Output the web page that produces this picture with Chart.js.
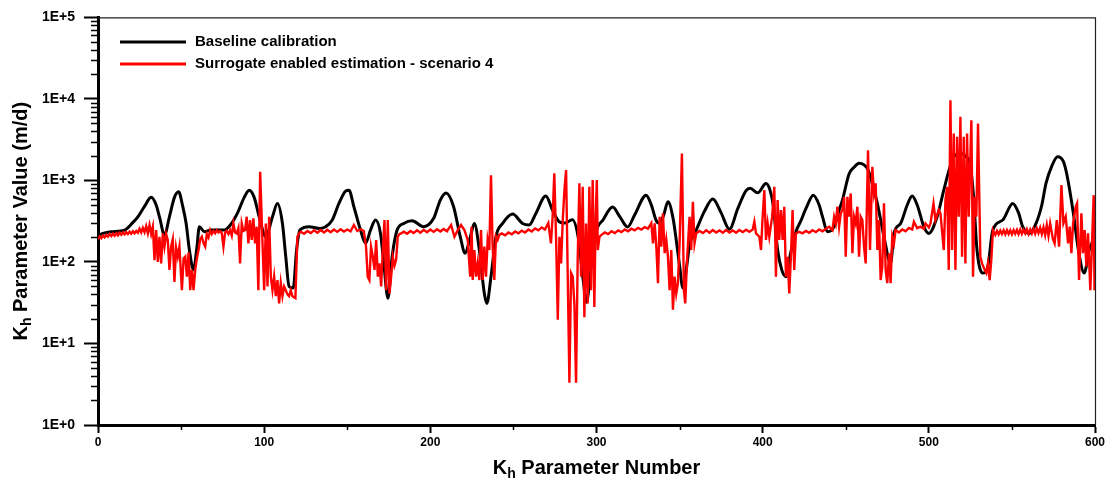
<!DOCTYPE html>
<html>
<head>
<meta charset="utf-8">
<script src="https://cdn.jsdelivr.net/npm/chart.js@4"></script>
<style>
  html, body { margin: 0; background: #fff; }
  #wrap { width: 1108px; height: 486px; position: relative; }
</style>
</head>
<body>
<div id="wrap"><canvas id="kh_chart"></canvas></div>
<script>
// values
const seriesNames = ["Baseline calibration", "Surrogate enabled estimation - scenario 4"];

const baselineX = [0,3,8,16,20,24,28,32,35,37,40,43,46,48.5,51,53,55,57.5,59.5,61,64,68,76,80,84,88,91,94,97,101,105,108,111,113,115,117.5,119.5,121.5,127,133,137,141,145,149,151,154,158,161,164,167,170,172,174.5,177,180,184,189,196,202,206,209.5,214,218,221,224,226.5,229.5,232.5,234,236.5,239.5,243.5,249.5,255.5,259.5,263.5,269.5,273.5,277.5,281,285.5,289,292,294,296.5,299.5,304,309.7,314,318.7,323,329.9,333,336,338,340.5,343,346,348,350,352,354,356,360,365,370,375,380,385,390,392.5,397,402,404.5,406.5,409,411.5,414,416.5,420,423,426,430.5,434,436,439,443,446,448,452,455,458,461,463.5,466,469,473,477,479,483,487,490,493,497,500,505,509,512,515,519,522,525,527,529,532.5,535.5,538.5,544.5,550.5,554,556.5,560.5,564.5,568,570.5,574,577.5,581,583,587,590,593.5,596.5,600];
const baselineY = [210,224,235,246,290,357,480,620,500,357,214,360,620,726,480,300,140,80,150,270,235,246,246,290,400,620,760,620,357,204,359,523,297,116,50,48,140,246,271,258,271,327,523,740,760,476,246,170,246,327,224,96,36,116,246,297,320,271,343,574,700,476,204,128,200,297,140,41,31,66,204,297,387,297,284,394,643,434,312,300,330,200,60,32,80,224,330,473,360,268,380,660,500,320,299,380,546,350,185,90,48,80,160,245,420,590,400,252,450,750,800,705,915,750,476,140,80,66,120,234,320,450,660,500,360,235,271,430,574,1200,1450,1620,1550,1340,900,523,204,96,224,297,500,643,500,271,224,359,762,1300,1950,2140,2000,1500,600,140,73,88,246,327,523,400,271,224,297,500,920,1500,1950,1700,1200,394,140,73,140,204];

const surrogateX = [0,1,2,3,4,5,6,7,8,9,10,11,12,13,14,15,16,17,18,19,20,21,22,23,24,25,26,27,28,29,30,31,32,33,34,35,36,37,38,39,40,41,42,43,44,45,46,47,48,49,50.5,51.5,52.5,53.5,54.5,55.5,56.5,57.5,58.5,59.5,60.5,61.5,62.5,63.5,64.5,65.5,66.5,67.5,68.5,69.5,70.5,71.5,72.5,73.5,74.5,75.5,76.5,77.5,78.5,79.5,80.5,81.5,82.5,83.5,84.5,85.5,86.5,87.5,88.5,89.5,90.5,91.5,92.5,93.5,94.5,95.5,96.5,97.6,98.8,100,101,102,103,104,105,106,107,108,109,110,111,112,113,114,115,116,117,118.8,120,121,122,124,126,128,130,132,134,136,138,140,142,144,146,148,150,152,154,156,158,160,161.3,162.3,163.3,164.3,165.4,166.4,167.4,168.4,169.4,170.4,171.4,172.4,173.4,174.4,175.4,176.4,177.4,178.4,179.4,180.4,181.4,182.4,184,186,188,190,192,194,196,198,200,202,204,206,208,210,212.5,214.5,216.5,218.5,220.5,222.5,224,224.8,225.5,226.5,227.5,228.5,229.5,230.5,231.5,232.5,233.5,234.5,235.5,236.5,237.5,238.5,239.5,240.5,241.5,243,245,247,249,251,253,255,257,259,261,263,265,267,269,271,272.6,273.6,274.6,275.7,276.7,277.7,278.7,279.7,280.7,281.7,282.7,283.7,284.7,285.7,286.7,287.7,288.7,289.7,290.7,291.7,292.7,293.7,294.7,295.7,296.7,297.7,298.7,299.5,300.2,300.8,301.8,303,305,307,309,311,313,315,317,319,321,323,325,327,329,331,333,334,335,336,337,338,339,340,341,342,343,344,345,346,347,348,349,350,351.4,352.6,353.4,354.6,356,357,358,359,360,362,364,366,368,370,372,374,376,378,380,382,384,386,388,390,392,394,395,396,398,399,400,401,402,403,404,405.7,407,408,409,410,411,412,413,414,415,416,417,418,419,420,422,424,426,428,430,432,434,436,438,440,442,443,444,445,446,447,448,449,450,451,452,453,454,455,456,457,458,459,460,461,462,463.4,464.6,466,467,468,469,470,471,472,473,474,475,476,477,478,479,480,482,484,486,488,490,491,493,495,497,498,500,501,502.8,504,506,507,509,510,511,512,513,514,515,516,517,518,519,520,521,522,523,524,525.6,526.6,527.6,528.6,529.6,531,532,533.6,534.6,535.6,536.6,537.6,538.6,540,541,542,543,544,545,546,547,548,549,550,551,552,553,554,555,556,557,558,559,560,561,562,563,564,565,566,567,568,569,570,571,572,573,574.7,575.7,577,578.4,579.8,581,582.4,583.8,584.8,585.8,586.8,588.4,589.2,590.4,591.8,592.8,593.8,594.8,595.8,597.2,598.2,599.2,599.7,600];
const surrogateY = [190,205,195,210,200,215,205,220,208,222,210,225,212,228,215,230,218,232,220,235,222,238,225,240,228,255,230,262,232,275,225,284,220,270,105,246,100,204,96,224,154,220,186,80,154,190,57,150,116,154,45,110,116,66,130,45,80,45,80,110,140,190,204,170,154,220,200,246,220,240,225,245,230,240,225,154,230,240,220,245,210,297,230,224,260,96,297,240,246,359,169,327,186,343,169,271,45,1280,224,45,297,50,359,66,45,66,38,60,31,55,38,50,45,40,38,45,38,36,204,225,235,222,240,226,244,228,246,230,248,232,250,234,252,236,250,238,284,240,252,240,154,66,60,154,116,80,186,66,96,50,140,327,45,327,41,66,116,90,106,204,220,224,235,222,240,226,244,228,248,232,250,234,252,236,254,238,284,204,246,284,246,186,66,271,60,140,66,96,60,246,60,154,66,186,140,1160,154,60,204,186,215,224,212,230,218,236,224,242,230,250,236,258,244,265,250,300,169,359,1220,186,19.5,204,96,327,762,1340,66,3.3,73,66,30,3.3,116,920,66,836,21,297,31,836,45,1010,28,359,1010,140,204,215,230,220,238,226,244,232,250,238,256,244,262,250,268,256,300,169,297,154,55,359,154,394,128,186,116,45,140,26,66,41,55,169,2140,45,31,116,359,140,548,169,224,240,226,244,228,246,230,244,228,246,230,244,228,246,232,248,234,250,312,224,204,140,359,762,186,297,204,359,836,66,574,186,434,186,476,66,116,41,116,434,80,224,235,225,240,228,245,232,250,238,256,271,246,359,297,476,271,394,434,630,116,630,359,693,128,359,297,476,116,359,327,154,96,2350,140,1470,693,920,140,327,60,88,523,80,55,128,55,204,169,246,230,250,238,262,250,312,260,271,255,297,265,297,523,327,434,394,140,574,836,80,9640,140,3770,80,3430,359,6030,116,3430,96,3770,359,5480,66,631,359,4990,116,96,80,73,96,60,106,246,215,240,218,242,220,244,218,246,220,244,218,246,222,248,220,250,222,248,224,252,220,250,224,254,222,258,226,262,220,266,214,284,210,297,190,169,327,154,877,297,359,169,271,128,297,476,523,60,394,128,246,88,224,45,169,660,45,620];

const xMajorTicks = [0, 100, 200, 300, 400, 500, 600];
const xMinorTicks = [50, 150, 250, 350, 450, 550];
const yMajorTicks = [1, 10, 100, 1000, 10000, 100000];
const yMinorTicks = [];
for (const d of [1, 10, 100, 1000, 10000]) {
  for (let m = 2; m <= 9; m++) yMinorTicks.push(m * d);
}

const FONT = "'Liberation Sans', Arial, Helvetica, sans-serif";

function toPoints(xs, ys) {
  return xs.map((x, i) => ({ x: x, y: ys[i] }));
}

// "K" + subscript "h" + rest, centred on (cx, cy)
function drawSubTitle(ctx, rest, cx, cy, size) {
  const big = "bold " + size + "px " + FONT;
  const small = "bold " + Math.round(size * 0.72) + "px " + FONT;
  ctx.font = big;
  const wK = ctx.measureText("K").width;
  const wRest = ctx.measureText(rest).width;
  ctx.font = small;
  const wH = ctx.measureText("h").width;
  let x = cx - (wK + wH + wRest) / 2;
  ctx.fillStyle = "#000";
  ctx.textBaseline = "middle";
  ctx.textAlign = "left";
  ctx.font = big;
  ctx.fillText("K", x, cy);
  x += wK;
  ctx.font = small;
  ctx.fillText("h", x, cy + size * 0.3);
  x += wH;
  ctx.font = big;
  ctx.fillText(rest, x, cy);
}

const decorPlugin = {
  id: "decor",
  afterDraw(chart) {
    const ctx = chart.ctx;
    const a = chart.chartArea;
    const xs = chart.scales.x;
    const ys = chart.scales.y;
    ctx.save();

    // thin frame on top and right
    ctx.strokeStyle = "#222";
    ctx.lineWidth = 1.2;
    ctx.beginPath();
    ctx.moveTo(a.left, a.top + 0.5);
    ctx.lineTo(a.right + 0.5, a.top + 0.5);
    ctx.lineTo(a.right + 0.5, a.bottom);
    ctx.stroke();

    // minor ticks
    ctx.strokeStyle = "#000";
    ctx.lineWidth = 1.5;
    ctx.beginPath();
    for (const v of yMinorTicks) {
      const py = Math.round(ys.getPixelForValue(v)) + 0.5;
      ctx.moveTo(a.left - 7, py);
      ctx.lineTo(a.left, py);
    }
    for (const v of xMinorTicks) {
      const px = Math.round(xs.getPixelForValue(v)) + 0.5;
      ctx.moveTo(px, a.bottom);
      ctx.lineTo(px, a.bottom + 5);
    }
    ctx.stroke();

    // legend inside the plot
    chart.data.datasets.forEach((ds, i) => {
      const ly = 42 + i * 22;
      ctx.strokeStyle = ds.borderColor;
      ctx.lineWidth = 3;
      ctx.beginPath();
      ctx.moveTo(120, ly);
      ctx.lineTo(186, ly);
      ctx.stroke();
      ctx.fillStyle = "#000";
      ctx.font = "bold 15px " + FONT;
      ctx.textBaseline = "middle";
      ctx.textAlign = "left";
      ctx.fillText(ds.label, 195, ly);
    });

    // axis titles
    drawSubTitle(ctx, " Parameter Number", (a.left + a.right) / 2, a.bottom + 43, 20);
    ctx.translate(21, (a.top + a.bottom) / 2);
    ctx.rotate(-Math.PI / 2);
    drawSubTitle(ctx, " Parameter Value (m/d)", 0, 0, 20);
    ctx.restore();
  },
};

const canvas = document.getElementById("kh_chart");

const chart = new Chart(canvas, {
  type: "line",
  data: {
    datasets: [
      {
        label: seriesNames[0],
        data: toPoints(baselineX, baselineY),
        borderColor: "#000000",
        borderWidth: 3,
        pointRadius: 0,
        cubicInterpolationMode: "monotone",
        order: 2,
      },
      {
        label: seriesNames[1],
        data: toPoints(surrogateX, surrogateY),
        borderColor: "#ff0000",
        borderWidth: 2.4,
        pointRadius: 0,
        tension: 0,
        order: 1,
      },
    ],
  },
  options: {
    responsive: true,
    maintainAspectRatio: false,
    animation: false,
    layout: { padding: { top: 17, right: 13, left: 0, bottom: 0 } },
    plugins: {
      legend: { display: false },
      tooltip: { enabled: false },
    },
    scales: {
      x: {
        type: "linear",
        min: 0,
        max: 600,
        afterBuildTicks: (s) => { s.ticks = xMajorTicks.map((v) => ({ value: v })); },
        afterFit: (s) => { s.height = 61; },
        ticks: {
          color: "#000",
          font: { family: FONT, weight: "bold", size: 12 },
          padding: 2,
          maxRotation: 0,
        },
        grid: { drawOnChartArea: false, drawTicks: true, tickLength: 8, tickWidth: 2, tickColor: "#000" },
        border: { display: true, color: "#000", width: 3 },
      },
      y: {
        type: "logarithmic",
        min: 1,
        max: 100000,
        afterBuildTicks: (s) => { s.ticks = yMajorTicks.map((v) => ({ value: v })); },
        afterFit: (s) => { s.width = 98; },
        ticks: {
          color: "#000",
          font: { family: FONT, weight: "bold", size: 14 },
          padding: 9,
          callback: (v) => "1E+" + Math.round(Math.log10(v)),
        },
        grid: { drawOnChartArea: false, drawTicks: true, tickLength: 14, tickWidth: 2, tickColor: "#000" },
        border: { display: true, color: "#000", width: 3 },
      },
    },
  },
  plugins: [decorPlugin],
});
</script>
</body>
</html>
